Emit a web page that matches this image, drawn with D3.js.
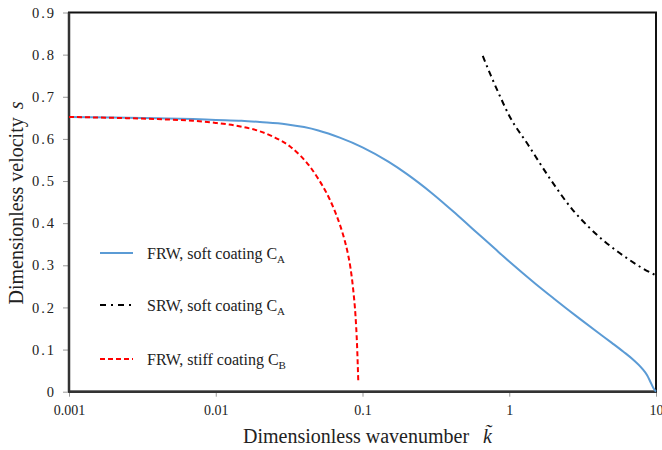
<!DOCTYPE html>
<html>
<head>
<meta charset="utf-8">
<script src="https://cdn.jsdelivr.net/npm/d3@7"></script>
<style>
  html, body { margin: 0; padding: 0; background: #fff; }
  svg { display: block; font-family: "Liberation Serif", "Times New Roman", serif; }
</style>
</head>
<body>
<svg id="chart" width="662" height="450"></svg>
<script>
// Dispersion curves: dimensionless velocity s versus wavenumber k (log scale)
const frwSoftK = [0.001, 0.002, 0.004, 0.007, 0.01, 0.015, 0.02, 0.03, 0.04, 0.05, 0.07, 0.1, 0.15, 0.2, 0.3, 0.45, 0.6, 0.8, 1.0, 1.5, 2.0, 3.0, 4.0, 5.0, 6.0, 7.0, 8.0, 8.7, 9.2, 9.6, 10];
const frwSoftS = [0.652, 0.651, 0.649, 0.647, 0.645, 0.643, 0.640, 0.635, 0.628, 0.620, 0.603, 0.580, 0.546, 0.517, 0.470, 0.417, 0.378, 0.339, 0.309, 0.257, 0.222, 0.174, 0.141, 0.116, 0.095, 0.076, 0.056, 0.039, 0.022, 0.009, 0.0];

const srwSoftK = [0.66, 0.75, 0.85, 1.0, 1.35, 1.9, 2.73, 3.5, 4.38, 5.5, 6.65, 8.0, 10];
const srwSoftS = [0.797, 0.750, 0.707, 0.655, 0.585, 0.505, 0.430, 0.390, 0.359, 0.332, 0.312, 0.294, 0.276];

const frwStiffK = [0.001, 0.002, 0.004, 0.007, 0.01, 0.015, 0.02, 0.025, 0.0321, 0.038, 0.0439, 0.05, 0.057, 0.0635, 0.0702, 0.0748, 0.079, 0.0828, 0.0865, 0.0896, 0.0918, 0.0936];
const frwStiffS = [0.652, 0.650, 0.647, 0.643, 0.638, 0.629, 0.618, 0.604, 0.582, 0.559, 0.534, 0.505, 0.471, 0.436, 0.396, 0.365, 0.332, 0.294, 0.241, 0.180, 0.111, 0.024];

const xTicks = [0.001, 0.01, 0.1, 1, 10];
const xTickLabels = ["0.001", "0.01", "0.1", "1", "10"];
const yTicks = [0, 0.1, 0.2, 0.3, 0.4, 0.5, 0.6, 0.7, 0.8, 0.9];
const yTickLabels = ["0", "0.1", "0.2", "0.3", "0.4", "0.5", "0.6", "0.7", "0.8", "0.9"];

const svg = d3.select("#chart");
const plotLeft = 69, plotRight = 656, plotTop = 12.5, plotBottom = 391.7;

const x = d3.scaleLog().domain([0.001, 10]).range([plotLeft, plotRight]);
const y = d3.scaleLinear().domain([0, 0.9]).range([plotBottom, plotTop]);

// axes (ticks + labels)
const xAxis = d3.axisBottom(x).tickValues(xTicks)
  .tickFormat((d, i) => xTickLabels[i]).tickSize(5).tickPadding(8);
const gx = svg.append("g").attr("transform", `translate(0,${plotBottom})`).call(xAxis);
gx.select(".domain").remove();
gx.selectAll(".tick line").attr("stroke", "#999");
gx.selectAll(".tick text").attr("font-size", 14).attr("fill", "#222")
  .attr("font-family", "Liberation Serif");

const yAxis = d3.axisLeft(y).tickValues(yTicks)
  .tickFormat((d, i) => yTickLabels[i]).tickSize(6).tickPadding(9);
const gy = svg.append("g").attr("transform", `translate(${plotLeft},0)`).call(yAxis);
gy.select(".domain").remove();
gy.selectAll(".tick line").attr("stroke", "#999");
gy.selectAll(".tick text").attr("font-size", 14.5).attr("fill", "#222")
  .attr("font-family", "Liberation Serif").attr("letter-spacing", 2).attr("dx", 2);

// plot frame
svg.append("rect").attr("x", plotLeft).attr("y", plotTop)
  .attr("width", plotRight - plotLeft).attr("height", plotBottom - plotTop)
  .attr("fill", "none").attr("stroke", "#111").attr("stroke-width", 2);
svg.append("line").attr("x1", plotLeft).attr("x2", plotRight).attr("y1", plotBottom).attr("y2", plotBottom)
  .attr("stroke", "#333").attr("stroke-width", 2.5);
svg.append("line").attr("x1", plotLeft).attr("x2", plotLeft).attr("y1", plotTop).attr("y2", plotBottom)
  .attr("stroke", "#333").attr("stroke-width", 2.5);

// curves
const line = d3.line().x(d => x(d[0])).y(d => y(d[1])).curve(d3.curveMonotoneX);
const zip = (ks, ss) => ks.map((k, i) => [k, ss[i]]);

const series = [
  { pts: zip(frwSoftK, frwSoftS), color: "#5b9bd5", dash: null, width: 2 },
  { pts: zip(srwSoftK, srwSoftS), color: "#000", dash: "6,4,2,4", width: 2 },
  { pts: zip(frwStiffK, frwStiffS), color: "#ff0000", dash: "5,3", width: 2 }
];
series.forEach(s => {
  svg.append("path").attr("d", line(s.pts)).attr("fill", "none")
    .attr("stroke", s.color).attr("stroke-width", s.width)
    .attr("stroke-dasharray", s.dash);
});

// legend
const legendItems = [
  { name: "FRW, soft coating C", sub: "A", color: "#5b9bd5", dash: null, y: 253 },
  { name: "SRW, soft coating C", sub: "A", color: "#000", dash: "6,5,2,5", y: 305 },
  { name: "FRW, stiff coating C", sub: "B", color: "#ff0000", dash: "5,3", y: 359 }
];
legendItems.forEach(it => {
  svg.append("line").attr("x1", 100).attr("x2", 133).attr("y1", it.y).attr("y2", it.y)
    .attr("stroke", it.color).attr("stroke-width", 2).attr("stroke-dasharray", it.dash);
  const t = svg.append("text").attr("x", 147).attr("y", it.y + 6)
    .attr("font-size", 16).attr("fill", "#222");
  t.append("tspan").text(it.name);
  t.append("tspan").attr("font-size", 11).attr("dy", 4).text(it.sub);
});

// axis titles
const xt = svg.append("text").attr("x", 243).attr("y", 443)
  .attr("font-size", 20).attr("fill", "#222");
xt.append("tspan").text("Dimensionless wavenumber");
xt.append("tspan").attr("dx", 14).attr("font-style", "italic").text("k\u0303");

const yt = svg.append("text").attr("transform", "translate(23,203) rotate(-90)")
  .attr("text-anchor", "middle").attr("font-size", 20).attr("fill", "#222");
yt.append("tspan").text("Dimensionless velocity");
yt.append("tspan").attr("dx", 8).attr("font-style", "italic").text("s");
</script>
</body>
</html>
